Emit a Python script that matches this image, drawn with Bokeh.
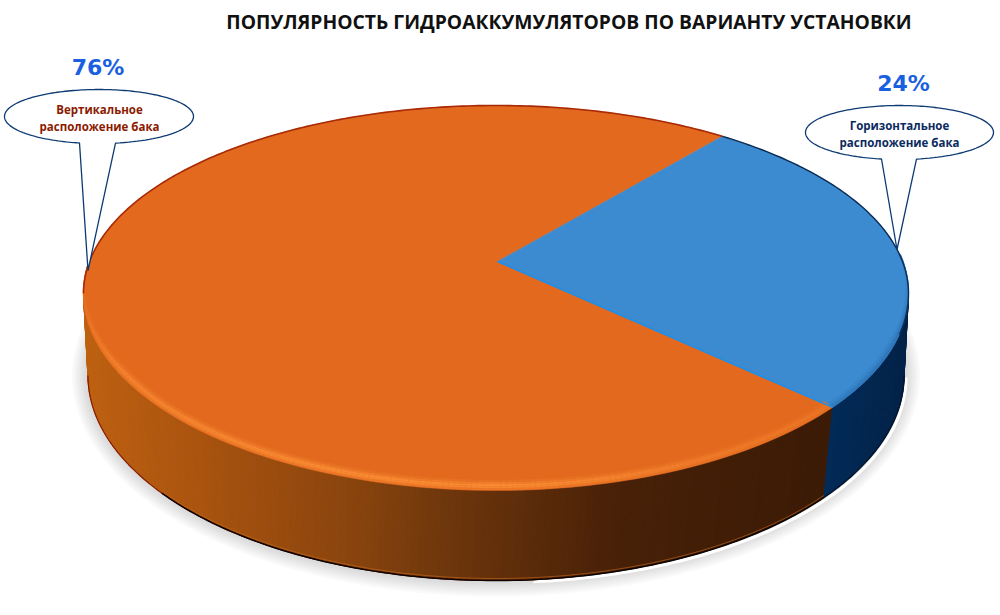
import numpy as np
from bokeh.plotting import figure
from bokeh.models import ColumnDataSource
from bokeh.core.properties import value
from bokeh.embed import file_html
from bokeh.resources import INLINE

# ---- data ----
title = "ПОПУЛЯРНОСТЬ ГИДРОАККУМУЛЯТОРОВ  ПО ВАРИАНТУ УСТАНОВКИ"
categories = ["Вертикальное расположение бака", "Горизонтальное расположение бака"]
shares = [76, 24]
pct_labels = ["76%", "24%"]
label_line1 = ["Вертикальное", "Горизонтальное"]
label_line2 = ["расположение бака", "расположение бака"]

# ---- style ----
C_ORANGE = "#E2691E"; C_BLUE = "#3C8AD0"
CX, CY, A, B_UP, B_LO = 495.5, 293.0, 412.5, 188.0, 197.0
CX2, CY2, A2, B2 = 495.5, 375.0, 408.0, 205.0
APEX = (497.0, 261.0)
T_START = 56.7
PERSPECTIVE = 1.065
WALL_SEAM_SKEW = 1.2
t_end = T_START - 360 * shares[1] / sum(shares) * PERSPECTIVE


def top_pt(t, inset=0.0):
    r = np.radians(t)
    return CX + A * np.cos(r), CY - (B_UP if np.sin(r) >= 0 else B_LO) * np.sin(r)


def inset_amount(t, full):
    """bevel width: none along the far edge, full along the near edge"""
    t = t % 360
    if 10 < t < 170:
        return 0.0
    if t >= 170 and t <= 205:
        return full * (t - 170) / 35
    if t <= 10:
        return full * 0.35 * (10 - t) / 10
    return full if t < 345 else full * (0.35 + 0.65 * (360 - t) / 15)


def in_pt(t, full):
    r = np.radians(t)
    w = inset_amount(t, full)
    return (CX + (A - w) * np.cos(r),
            CY - (B_UP if np.sin(r) >= 0 else B_LO - w) * np.sin(r))


def low_pt(t):
    r = np.radians(t)
    return CX2 + A2 * np.cos(r), CY2 - B2 * np.sin(r)


def arc(fn, t0, t1, n=160, **kw):
    ts = np.linspace(t0, t1, n)
    pts = [fn(t, **kw) for t in ts]
    return [q[0] for q in pts], [q[1] for q in pts]


p = figure(width=1000, height=615, x_range=(0, 1000), y_range=(615, 0),
           output_backend="svg", toolbar_location=None,
           min_border=0, outline_line_color=None, background_fill_color="white")
p.axis.visible = False
p.grid.visible = False

# soft shadow
for w in range(16, 0, -2):
    xs, ys = arc(low_pt, 0, 360, 240)
    xs = CX2 + (np.array(xs) - CX2) * (A2 + w) / A2
    ys = CY2 + (np.array(ys) - CY2) * (B2 + w) / B2
    p.patch(list(xs), list(ys), fill_color="#6a6a6a", fill_alpha=0.035, line_color=None)

# white halo between shadow and wall on the right
xh, yh = arc(low_pt, -85, 0, 80)
p.line([x + 2 for x in xh], [y + 2 for y in yh], line_color="white", line_width=3)


def wall(t0, t1, n, sx, srgb, skew0=0.0, skew1=0.0):
    tg = np.linspace(t0, t1, n)
    lo = np.linspace(t0 + skew0, t1 + skew1, n)
    wx, wy, wc = [], [], []
    for i in range(n - 1):
        a0, a1 = top_pt(tg[i]), top_pt(tg[i + 1])
        b0, b1 = low_pt(lo[i]), low_pt(lo[i + 1])
        wx.append([a0[0], a1[0], b1[0], b0[0]])
        wy.append([a0[1], a1[1], b1[1], b0[1]])
        xm = (a0[0] + a1[0]) / 2
        rgb = [np.interp(xm, sx, np.array(srgb)[:, j]) for j in range(3)]
        wc.append("#%02x%02x%02x" % tuple(int(v) for v in rgb))
    p.patches(wx, wy, fill_color=wc, line_color=wc, line_width=1)


wall(180, 360 + t_end, 150, [83, 200, 350, 460, 620, 830],
     [[190, 97, 16], [170, 84, 16], [138, 69, 14], [108, 53, 12], [72, 33, 8], [60, 27, 6]],
     skew1=-WALL_SEAM_SKEW)
wall(360 + t_end, 360, 40, [825, 905], [[2, 44, 90], [2, 34, 72]], skew0=-WALL_SEAM_SKEW)

# lower outlines of the wall
xl, yl = arc(low_pt, 180, 280, 100)
p.line(xl, yl, line_color="#8a1c04", line_width=1.2)
xl, yl = arc(low_pt, 215, 360 + t_end - WALL_SEAM_SKEW, 120)
p.line(xl, [y - 2 for y in yl], line_color="#c2661a", line_width=0.8, line_alpha=0.8)
p.line(xl, yl, line_color="#0c0400", line_width=1.5)
xl, yl = arc(low_pt, 360 + t_end - WALL_SEAM_SKEW, 360, 60)
p.line(xl, yl, line_color="#02162f", line_width=1.5)

# top face
t_or0, t_or1 = T_START, 360 + t_end
xo, yo = arc(top_pt, t_or0, t_or1, 260)
p.patch([APEX[0]] + xo, [APEX[1]] + yo, fill_color=C_ORANGE, line_color=C_ORANGE, line_width=0.5)
xb, yb = arc(top_pt, t_end, T_START, 90)
p.patch([APEX[0]] + xb, [APEX[1]] + yb, fill_color=C_BLUE, line_color=C_BLUE, line_width=0.5)


# bevel drawn as fine segments whose colour fades along the rim
def bevel(t0, t1, n, base, bright, strength, offsets):
    tg = np.linspace(t0, t1, n)
    base, bright = np.array(base, float), np.array(bright, float)
    for off, k in offsets:
        xs, ys, cs = [], [], []
        for u0, u1 in zip(tg[:-1], tg[1:]):
            f = strength((u0 + u1) / 2) * k
            c = base + (bright - base) * f
            q0, q1 = in_pt(u0, off), in_pt(u1, off)
            xs.append([q0[0], q1[0]]); ys.append([q0[1], q1[1]])
            cs.append("#%02x%02x%02x" % tuple(int(v) for v in c))
        p.multi_line(xs, ys, line_color=cs, line_width=2.2)


def or_strength(t):
    return float(np.interp(t, [170, 205, 250, 275, 300, 325], [0.0, 0.75, 1.0, 0.95, 0.55, 0.35]))


def bl_strength(t):
    return float(np.interp(t, [t_end, 0, 12], [0.5, 0.7, 0.0]))


bevel(170, 360 + t_end, 190, [226, 105, 30], [250, 140, 52], or_strength,
      [(1.5, 0.45), (3.5, 0.85), (5.5, 1.0), (7.5, 0.6), (9.5, 0.25)])
bevel(t_end, 12, 60, [60, 138, 208], [36, 104, 168], bl_strength,
      [(1.5, 1.0), (3.5, 0.6), (5.5, 0.25)])

# seams
s_end, s_start = top_pt(t_end), top_pt(T_START)
p.line([APEX[0], s_end[0]], [APEX[1], s_end[1]], line_color="#1E8FE8", line_width=1.6)

# rim lines
xr, yr = arc(top_pt, T_START, 180, 170)
p.line(xr, yr, line_color="#A82A06", line_width=1.6)
xr, yr = arc(top_pt, -12, T_START, 90)
p.line(xr, yr, line_color="#0B2C55", line_width=1.4)


# callouts
def callout(cx, cy, a, b, tail_l, tail_r, tip):
    phi_l = np.degrees(np.arccos((tail_l - cx) / a))
    phi_r = np.degrees(np.arccos((tail_r - cx) / a))
    ts = np.radians(np.concatenate([np.linspace(360 - phi_r, 360, 30),
                                    np.linspace(0, 360 - phi_l, 150)]))
    xs = list(cx + a * np.cos(ts))
    ys = list(cy - b * np.sin(ts))
    return xs + [tip[0]], ys + [tip[1]]


call_specs = [(98.5, 116.0, 94.5, 27.0, 79.0, 115.0, (87.5, 270.0)),
              (899.0, 132.0, 94.0, 27.0, 881.0, 916.0, (896.5, 249.0))]
for spec in call_specs:
    cx_, cy_, a_, b_, tl, tr, tip = spec
    xs, ys = callout(cx_, cy_, a_, b_, tl, tr, tip)
    p.patch(xs, ys, fill_color="white", line_color="#0C3A72", line_width=1.3)

# texts
p.text([571], [21], text=[title], text_align="center", text_baseline="middle",
       text_font=value("Open Sans"), text_font_style="bold", text_font_size="19.3px",
       text_color="#111111")

px = [97.5, 903.0]; py = [67.0, 83.0]
p.text(px, py, text=pct_labels, text_align="center", text_baseline="middle",
       text_font=value("DejaVu Sans"), text_font_style="bold", text_font_size="22px",
       text_color="#1A5FE0")

lx = [99.0, 899.0]; ly1 = [109.0, 125.0]; ly2 = [126.0, 142.0]
lc = ["#8B1A00", "#0B2A5E"]
src = ColumnDataSource(dict(x=lx, y1=ly1, y2=ly2, t1=label_line1, t2=label_line2, c=lc))
for yk, tk in (("y1", "t1"), ("y2", "t2")):
    p.text("x", yk, text=tk, source=src, text_align="center", text_baseline="middle",
           text_font=value("Open Sans"), text_font_style="bold", text_font_size="11.5px",
           text_color="c")

open("out.html", "w").write(file_html(p, INLINE))
